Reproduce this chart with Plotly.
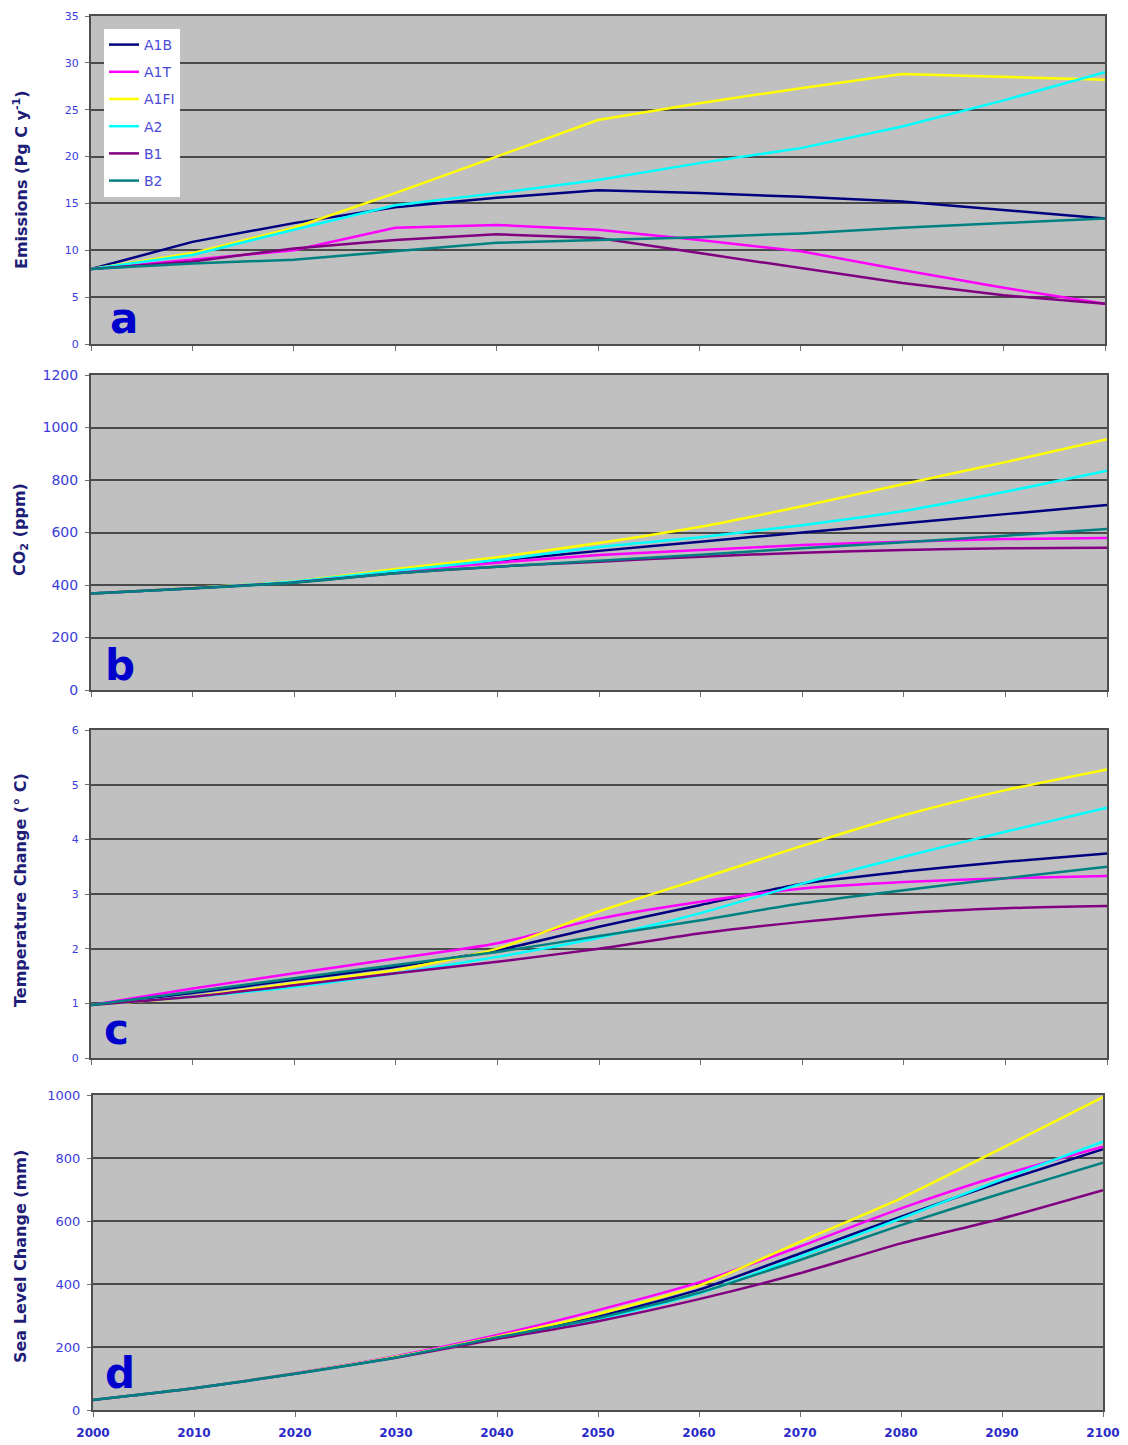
import plotly.graph_objects as go

W, H = 1128, 1445

years = [2000, 2010, 2020, 2030, 2040, 2050, 2060, 2070, 2080, 2090, 2100]
scenarios = ["A1B", "A1T", "A1FI", "A2", "B1", "B2"]
colors = ["#000080", "#FF00FF", "#FFFF00", "#00FFFF", "#800080", "#008080"]

# (a) Emissions (Pg C / yr)
em_A1B = [8.0, 10.9, 12.9, 14.6, 15.6, 16.4, 16.1, 15.7, 15.2, 14.3, 13.4]
em_A1T = [8.0, 9.0, 10.0, 12.4, 12.7, 12.2, 11.1, 9.9, 7.9, 6.0, 4.3]
em_A1FI = [8.0, 9.7, 12.4, 16.1, 20.0, 23.9, 25.7, 27.3, 28.8, 28.5, 28.2]
em_A2 = [8.0, 9.5, 12.2, 14.8, 16.1, 17.5, 19.3, 20.9, 23.2, 26.0, 29.0]
em_B1 = [8.0, 8.8, 10.2, 11.1, 11.7, 11.3, 9.7, 8.1, 6.5, 5.2, 4.3]
em_B2 = [8.0, 8.6, 9.0, 9.9, 10.8, 11.1, 11.4, 11.8, 12.4, 12.9, 13.4]

# (b) CO2 (ppm)
co2_A1B = [368, 388, 412, 452, 493, 530, 565, 600, 635, 670, 705]
co2_A1T = [368, 388, 412, 451, 485, 514, 533, 552, 565, 575, 579]
co2_A1FI = [368, 389, 414, 461, 506, 560, 622, 700, 785, 868, 955]
co2_A2 = [368, 388, 413, 454, 495, 545, 582, 628, 682, 755, 835]
co2_B1 = [368, 388, 410, 445, 470, 489, 508, 523, 533, 540, 542]
co2_B2 = [368, 387, 409, 445, 470, 492, 515, 540, 563, 588, 613]

# (c) Temperature change (deg C)
t_A1B = [0.97, 1.19, 1.43, 1.67, 1.97, 2.40, 2.80, 3.19, 3.41, 3.59, 3.74]
t_A1T = [0.97, 1.27, 1.55, 1.82, 2.10, 2.55, 2.86, 3.10, 3.22, 3.29, 3.33]
t_A1FI = [0.97, 1.12, 1.37, 1.61, 2.00, 2.68, 3.28, 3.88, 4.44, 4.90, 5.28]
t_A2 = [0.97, 1.12, 1.30, 1.55, 1.85, 2.20, 2.65, 3.19, 3.68, 4.14, 4.58]
t_B1 = [0.97, 1.12, 1.33, 1.55, 1.76, 2.00, 2.28, 2.49, 2.65, 2.74, 2.78]
t_B2 = [0.97, 1.21, 1.46, 1.70, 1.94, 2.23, 2.52, 2.83, 3.07, 3.29, 3.50]

# (d) Sea level change (mm)
sl_A1B = [32, 69, 116, 168, 232, 296, 382, 497, 614, 725, 828]
sl_A1T = [32, 69, 117, 171, 238, 317, 405, 519, 640, 746, 836]
sl_A1FI = [32, 69, 116, 169, 233, 305, 395, 534, 672, 831, 993]
sl_A2 = [32, 69, 115, 167, 229, 288, 370, 487, 608, 732, 852]
sl_B1 = [32, 69, 115, 166, 225, 282, 352, 434, 529, 608, 698]
sl_B2 = [32, 69, 115, 167, 230, 292, 372, 476, 587, 688, 785]

panels = [
    ([em_A1B, em_A1T, em_A1FI, em_A2, em_B1, em_B2], [0, 35], 5, "linear"),
    ([co2_A1B, co2_A1T, co2_A1FI, co2_A2, co2_B1, co2_B2], [0, 1200], 200, "spline"),
    ([t_A1B, t_A1T, t_A1FI, t_A2, t_B1, t_B2], [0, 6], 1, "spline"),
    ([sl_A1B, sl_A1T, sl_A1FI, sl_A2, sl_B1, sl_B2], [0, 1000], 200, "spline"),
]

# pixel boxes of plot areas: (left, right, top, bottom)
boxes = [(91, 1105, 16, 344), (91, 1107, 375, 690), (91, 1107, 730, 1058), (93, 1103, 1095, 1410)]
ytick_sizes = [11, 14, 11, 13]
titles = ["<b>Emissions (Pg C y<sup>-1</sup>)</b>", "<b>CO<sub>2</sub> (ppm)</b>",
          "<b>Temperature Change (° C)</b>", "<b>Sea Level Change (mm)</b>"]
title_centers = [180, 530, 890, 1257]
letters = ["a", "b", "c", "d"]
letter_pos = [(124, 318), (120, 666), (116, 1029), (120, 1373)]

fig = go.Figure()
layout = {}
annotations = []
for i, (series, yr, dt, shape) in enumerate(panels):
    sfx = "" if i == 0 else str(i + 1)
    for name, col, vals in zip(scenarios, colors, series):
        fig.add_trace(go.Scatter(
            x=years, y=vals, mode="lines", name=name,
            line=dict(color=col, width=2.5, shape=shape, smoothing=0.6),
            xaxis="x" + sfx, yaxis="y" + sfx,
            showlegend=(i == 0), legendgroup=name,
        ))
    l, r, t, b = boxes[i]
    layout["xaxis" + sfx] = dict(
        domain=[l / W, r / W], anchor="y" + sfx, range=[2000, 2100],
        tickvals=years, ticktext=[str(y) for y in years],
        showticklabels=(i == 3), ticks="outside", ticklen=5, tickcolor="#707070",
        tickfont=dict(family="DejaVu Sans", size=12, color="#2A2AC8", weight="bold"),
        ticklabelstandoff=6, automargin=False,
        showgrid=False, zeroline=False, showline=True, mirror=True,
        linecolor="#4d4d4d", linewidth=2,
    )
    layout["yaxis" + sfx] = dict(
        domain=[1 - b / H, 1 - t / H], anchor="x" + sfx, range=yr, dtick=dt,
        tick0=0, ticks="outside", ticklen=4, tickcolor="#707070",
        tickfont=dict(family="DejaVu Sans", size=ytick_sizes[i], color="#3C3CDC"),
        ticklabelstandoff=4, automargin=False,
        showgrid=True, gridcolor="#4a4a4a", gridwidth=2,
        zeroline=False, showline=True, mirror=True,
        linecolor="#4d4d4d", linewidth=2,
    )
    annotations.append(dict(
        text=titles[i], xref="paper", yref="paper", x=20 / W, y=1 - title_centers[i] / H,
        xanchor="center", yanchor="middle", textangle=-90, showarrow=False,
        font=dict(family="DejaVu Sans", size=16, color="#1E1E78"),
    ))
    lx, ly = letter_pos[i]
    annotations.append(dict(
        text="<b>" + letters[i] + "</b>", xref="paper", yref="paper", x=lx / W, y=1 - ly / H,
        xanchor="center", yanchor="middle", showarrow=False,
        font=dict(family="DejaVu Sans", size=42, color="#0000CC"),
    ))

fig.update_layout(
    width=W, height=H, margin=dict(l=0, r=0, t=0, b=0, autoexpand=False),
    paper_bgcolor="white", plot_bgcolor="#C0C0C0",
    legend=dict(x=104 / W, y=1 - 29 / H, xanchor="left", yanchor="top",
                bgcolor="white", borderwidth=0, tracegroupgap=6,
                font=dict(family="DejaVu Sans", size=14, color="#4B4BD8")),
    annotations=annotations,
    **layout,
)

fig.write_html("out.html", config={"displayModeBar": False},
               post_script="document.body.style.margin='0';document.body.style.overflow='hidden';")
